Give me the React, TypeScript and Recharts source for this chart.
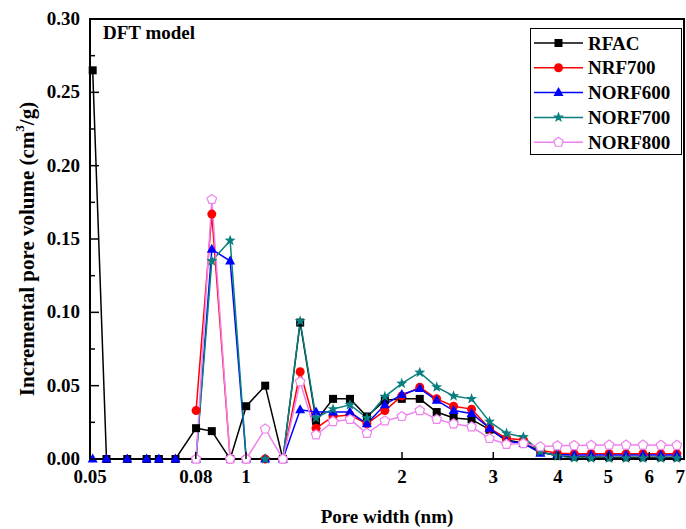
import { LineChart, Line, XAxis, YAxis, Legend, ReferenceArea } from 'recharts'

// DFT pore widths (nm)
const poreWidths = [
  0.506, 0.538, 0.59, 0.643, 0.679, 0.731, 0.801, 0.859, 0.932, 1.001, 1.089, 1.178,
  1.272, 1.365, 1.472, 1.587, 1.711, 1.853, 1.998, 2.164, 2.333, 2.515, 2.724, 2.95,
  3.181, 3.429, 3.698, 3.987, 4.298, 4.634, 5.018, 5.411, 5.834, 6.318, 6.782,
]

const rfac = [
  0.265, 0, 0, 0, 0, 0, 0.021, 0.019, 0, 0.036, 0.05, 0, 0.093, 0.026, 0.041, 0.041,
  0.029, 0.04, 0.041, 0.041, 0.032, 0.028, 0.027, 0.02, 0.013, 0.011, 0.005, 0.002,
  0.0015, 0.0013, 0.0012, 0.0012, 0.0012, 0.0012, 0.0012,
]
const nrf700 = [
  null, null, null, null, null, null, 0.033, 0.167, 0, 0, 0, 0, 0.0595, 0.021, 0.029,
  0.03, 0.024, 0.033, 0.043, 0.049, 0.041, 0.036, 0.034, 0.021, 0.014, 0.013, 0.006,
  0.004, 0.0035, 0.0036, 0.0036, 0.0035, 0.0036, 0.0035, 0.0035,
]
const norf600 = [
  0, 0, 0, 0, 0, 0, 0, 0.143, 0.135, 0, 0, 0, 0.0335, 0.032, 0.032, 0.032, 0.024,
  0.037, 0.044, 0.048, 0.04, 0.033, 0.031, 0.021, 0.012, 0.0107, 0.004, 0.003, 0.0027,
  0.0027, 0.0028, 0.0027, 0.0027, 0.0028, 0.0027,
]
const norf700 = [
  null, null, null, null, null, null, 0, 0.135, 0.149, 0, 0, 0, 0.094, 0.028, 0.034,
  0.037, 0.028, 0.0425, 0.0515, 0.059, 0.049, 0.043, 0.041, 0.0255, 0.0175, 0.015,
  0.005, 0.002, 0.0006, 0.0005, 0.0005, 0.0005, 0.0005, 0.0005, 0.0005,
]
const norf800 = [
  null, null, null, null, null, null, 0, 0.177, 0, 0, 0.0205, 0, 0.0527, 0.0165,
  0.0255, 0.027, 0.0175, 0.026, 0.029, 0.033, 0.027, 0.024, 0.022, 0.014, 0.01,
  0.0105, 0.0084, 0.009, 0.0092, 0.0094, 0.0095, 0.0095, 0.0095, 0.0094, 0.0093,
]

const xTicks = [0.5, 0.8, 1, 2, 3, 4, 5, 6, 7]
const xTickLabels = ['0.05', '0.08', '1', '2', '3', '4', '5', '6', '7']
const yTicks = [
  0, 0.025, 0.05, 0.075, 0.1, 0.125, 0.15, 0.175, 0.2, 0.225, 0.25, 0.275, 0.3,
]

const data = poreWidths.map((w, i) => ({
  w,
  RFAC: rfac[i],
  NRF700: nrf700[i],
  NORF600: norf600[i],
  NORF700: norf700[i],
  NORF800: norf800[i],
}))

const series = [
  { key: 'RFAC', color: '#000000', marker: 'square' },
  { key: 'NRF700', color: '#ff0000', marker: 'circle' },
  { key: 'NORF600', color: '#0000ff', marker: 'triangle' },
  { key: 'NORF700', color: '#0a7f7f', marker: 'star' },
  { key: 'NORF800', color: '#ee82ee', marker: 'pentagon' },
]

const FONT = "'Liberation Serif', 'Times New Roman', serif"

function Marker({ kind, cx, cy, color }: { kind: string; cx: number; cy: number; color: string }) {
  if (kind === 'square') {
    return <rect x={cx - 4} y={cy - 4} width={8} height={8} fill={color} />
  }
  if (kind === 'circle') {
    return <circle cx={cx} cy={cy} r={4.5} fill={color} />
  }
  if (kind === 'triangle') {
    return (
      <polygon
        points={`${cx},${cy - 5.5} ${cx - 5},${cy + 3.5} ${cx + 5},${cy + 3.5}`}
        fill={color}
      />
    )
  }
  if (kind === 'star') {
    const pts = []
    for (let k = 0; k < 10; k++) {
      const r = k % 2 === 0 ? 5.8 : 2.4
      const a = -Math.PI / 2 + (k * Math.PI) / 5
      pts.push(`${cx + r * Math.cos(a)},${cy + r * Math.sin(a)}`)
    }
    return <polygon points={pts.join(' ')} fill={color} />
  }
  const pts = []
  for (let k = 0; k < 5; k++) {
    const a = -Math.PI / 2 + (k * 2 * Math.PI) / 5
    pts.push(`${cx + 5 * Math.cos(a)},${cy + 5 * Math.sin(a)}`)
  }
  return <polygon points={pts.join(' ')} fill="#fff" stroke={color} strokeWidth={1.2} />
}

const X_MARGIN = 8
const Y_MARGIN = 10

function XTick(props: any) {
  const { x, y, payload, index } = props
  const axisY = y - X_MARGIN
  const last = index === xTicks.length - 1
  return (
    <g>
      <line x1={x} x2={x} y1={axisY} y2={axisY - 7} stroke="#000" strokeWidth={1.5} />
      <text
        x={last ? x + 1 : x}
        y={axisY + 24}
        textAnchor={last ? 'end' : 'middle'}
        fontFamily={FONT}
        fontWeight="bold"
        fontSize={19}
        fill="#000"
      >
        {xTickLabels[xTicks.indexOf(payload.value)]}
      </text>
    </g>
  )
}

function YTick(props: any) {
  const { x, y, payload } = props
  const axisX = x + Y_MARGIN
  const major = Math.round(payload.value * 1000) % 50 === 0
  return (
    <g>
      <line
        x1={axisX}
        x2={axisX + (major ? 9 : 5)}
        y1={y}
        y2={y}
        stroke="#000"
        strokeWidth={1.5}
      />
      {major && (
        <text
          x={x}
          y={y + 6}
          textAnchor="end"
          fontFamily={FONT}
          fontWeight="bold"
          fontSize={19}
          fill="#000"
        >
          {payload.value.toFixed(2)}
        </text>
      )}
    </g>
  )
}

function YLabel(props: any) {
  const { viewBox } = props
  const cx = 27
  const cy = viewBox.y + viewBox.height / 2 + 10
  return (
    <text
      x={cx}
      y={cy}
      transform={`rotate(-90, ${cx}, ${cy})`}
      textAnchor="middle"
      dominantBaseline="central"
      fontFamily={FONT}
      fontWeight="bold"
      fontSize={21}
      fill="#000"
    >
      Incremental pore volume (cm
      <tspan dy={-8} fontSize={13}>3</tspan>
      <tspan dy={8}>/g)</tspan>
    </text>
  )
}

// legend drawn in series order, not Recharts' sorted payload order
function LegendBox() {
  return (
    <div
      style={{
        width: 152,
        height: 127,
        border: '1.5px solid #000',
        background: '#fff',
        boxSizing: 'border-box',
      }}
    >
      <svg width={149} height={124} style={{ overflow: 'visible', display: 'block' }}>
        {series.map((s, i) => {
          const cy = 14 + i * 24.8
          return (
            <g key={s.key}>
              <line x1={3} x2={52} y1={cy} y2={cy} stroke={s.color} strokeWidth={1.5} />
              <Marker kind={s.marker} cx={27.5} cy={cy} color={s.color} />
              <text
                x={57}
                y={cy + 6.5}
                fontFamily={FONT}
                fontWeight="bold"
                fontSize={19}
                fill="#000"
              >
                {s.key}
              </text>
            </g>
          )
        })}
      </svg>
    </div>
  )
}

export default function App() {
  return (
    <div style={{ position: 'absolute', left: 0, top: 0, background: '#fff' }}>
      <LineChart
        width={686}
        height={529}
        data={data}
        margin={{ top: 19, right: 2, bottom: 0, left: 0 }}
      >
        <XAxis
          dataKey="w"
          type="number"
          scale="log"
          domain={[0.5, 7]}
          ticks={xTicks}
          interval={0}
          height={70}
          tickSize={0}
          tickMargin={X_MARGIN}
          tickLine={false}
          axisLine={{ stroke: '#000', strokeWidth: 2 }}
          tick={<XTick />}
          label={{
            value: 'Pore width (nm)',
            position: 'insideBottom',
            offset: 6,
            fontFamily: FONT,
            fontWeight: 'bold',
            fontSize: 19,
            fill: '#000',
          }}
        />
        <YAxis
          type="number"
          domain={[0, 0.3]}
          ticks={yTicks}
          interval={0}
          width={90}
          tickSize={0}
          tickMargin={Y_MARGIN}
          tickLine={false}
          axisLine={{ stroke: '#000', strokeWidth: 2 }}
          tick={<YTick />}
          label={{ content: <YLabel /> }}
        />
        <ReferenceArea
          x1={0.5}
          x2={7}
          y1={0}
          y2={0.3}
          fill="none"
          stroke="#000"
          strokeWidth={2}
          ifOverflow="visible"
        />
        {series.map((s) => (
          <Line
            key={s.key}
            dataKey={s.key}
            stroke={s.color}
            strokeWidth={1.5}
            isAnimationActive={false}
            connectNulls={false}
            dot={(p: any) =>
              p.cx == null || p.cy == null || p.value == null ? (
                <g key={`${s.key}-${p.index}`} />
              ) : (
                <Marker key={`${s.key}-${p.index}`} kind={s.marker} cx={p.cx} cy={p.cy} color={s.color} />
              )
            }
            activeDot={false}
          />
        ))}
        <text
          x={103}
          y={39}
          fontFamily={FONT}
          fontWeight="bold"
          fontSize={19}
          fill="#000"
        >
          DFT model
        </text>
        <Legend
          layout="vertical"
          align="center"
          verticalAlign="middle"
          content={<LegendBox />}
          wrapperStyle={{ left: 530, top: 28, width: 152, height: 127 }}
        />
      </LineChart>
    </div>
  )
}
